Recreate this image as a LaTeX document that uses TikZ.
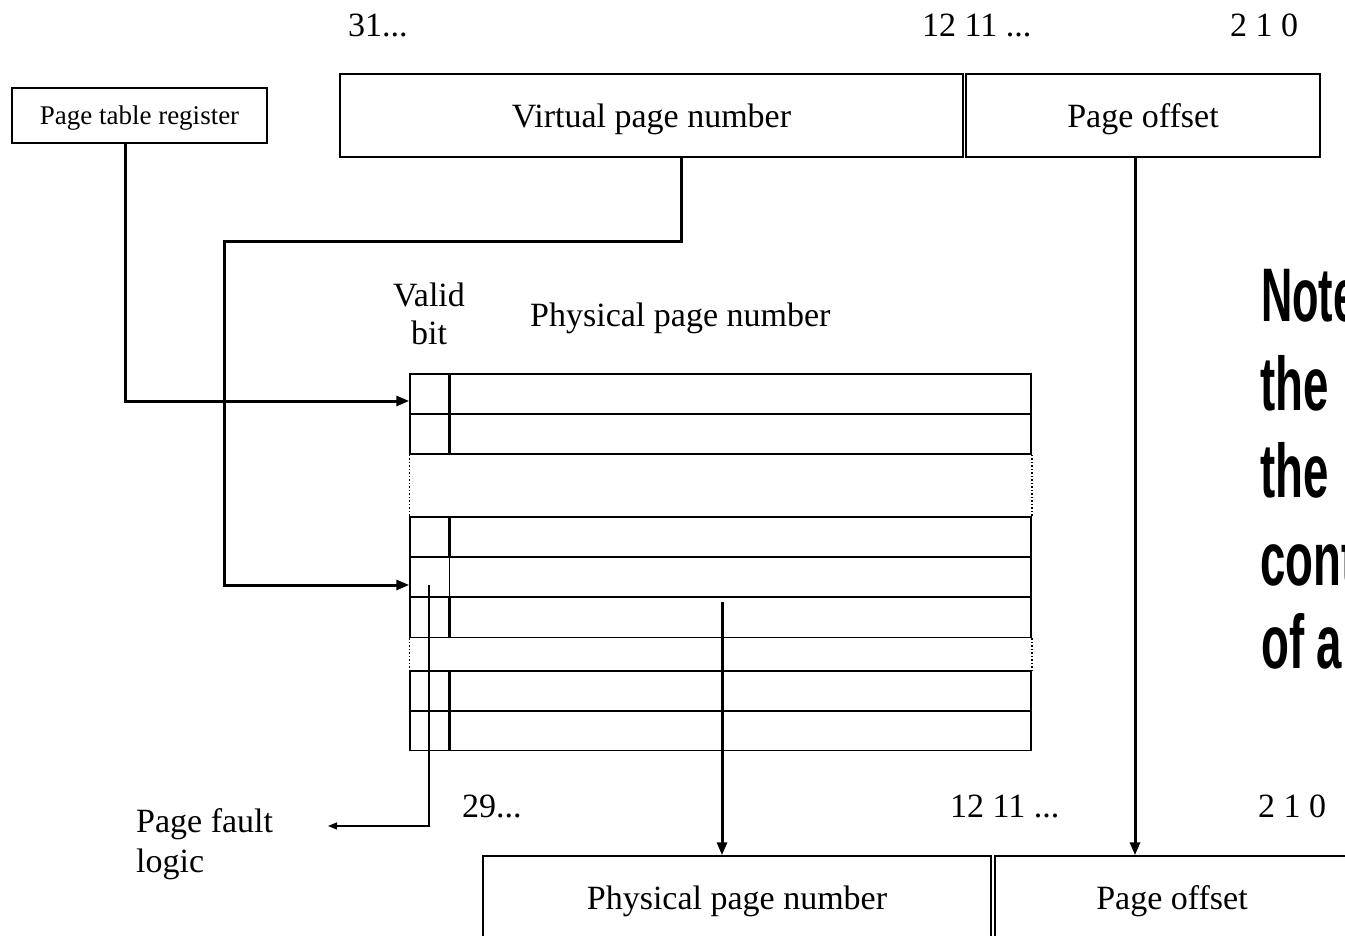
\documentclass[tikz,border=0pt]{standalone}
\usepackage{fontspec}
\usepackage{graphicx}
\setmainfont{Liberation Serif}
\newfontfamily\notefont{Liberation Sans}
\usetikzlibrary{arrows.meta}
\begin{document}
\begin{tikzpicture}[x=1pt,y=-1pt,
  box/.style={draw,line width=1.5pt,inner sep=0pt,text depth=0pt,font=\fontsize{34}{40}\selectfont},
  rowbox/.style={draw,line width=1.5pt,minimum width=621pt,minimum height=40pt,inner sep=0pt},
  conn/.style={line width=3pt,-{Triangle[length=13pt,width=10pt]}},
  thinconn/.style={line width=1.5pt,-{Triangle[length=9pt,width=7pt]}},
  vdiv/.style={line width=2.5pt},
  lbl/.style={inner sep=0pt,font=\fontsize{34}{40}\selectfont},
  note/.style={inner sep=0pt,anchor=base west,font=\notefont\bfseries\fontsize{76}{76}\selectfont}]
\useasboundingbox (0,0) rectangle (1345,936);
\clip (0,0) rectangle (1345,936);
% bit labels top
\node[lbl,anchor=west] (t31) at (348,25) {31...};
\node[lbl,anchor=west] (t12) at (922,25) {12 11 ...};
\node[lbl,anchor=west] (t0) at (1230,25) {2 1 0};
% top boxes
\node[box,minimum width=623pt,minimum height=83pt] (vpn) at (651.5,115.5) {Virtual page number};
\node[box,minimum width=354pt,minimum height=83pt] (po) at (1143,115.5) {Page offset};
\node[box,minimum width=255pt,minimum height=55pt,font=\fontsize{27}{32}\selectfont] (ptr) at (139.5,115.5) {Page table register};
% column headings
\node[lbl,align=center,font=\fontsize{34}{38}\selectfont] (valid) at (429,314) {Valid\\bit};
\node[lbl,anchor=west,text depth=0pt] (ppnh) at (530,315) {Physical page number};
% table rows
\node[rowbox] (row1) at (720.5,394) {};
\node[rowbox] (row2) at (720.5,434) {};
\node[rowbox] (row3) at (720.5,537) {};
\node[rowbox] (row4) at (720.5,577) {};
\node[rowbox] (row5) at (720.5,617.5) {};
\node[rowbox] (row6) at (720.5,691) {};
\node[rowbox] (row7) at (720.5,730.5) {};
\draw[line width=1.5pt,dotted] (row2.south west) -- (row3.north west);
\draw[line width=1.5pt,dotted] (row2.south east) -- (row3.north east);
\draw[line width=1.5pt,dotted] (row5.south west) -- (row6.north west);
\draw[line width=1.5pt,dotted] (row5.south east) -- (row6.north east);
\foreach \r in {1,2,3,5,6,7}
  \draw[vdiv] ([xshift=40pt]row\r.north west) -- ([xshift=40pt]row\r.south west);
\draw[line width=1.5pt] ([xshift=40pt]row4.north west) -- ([xshift=40pt]row4.south west);
% bottom bit labels
\node[lbl,anchor=west] (b29) at (462,806) {29...};
\node[lbl,anchor=west] (b12) at (950,806) {12 11 ...};
\node[lbl,anchor=west] (b0) at (1258,806) {2 1 0};
% bottom boxes
\node[box,minimum width=508pt,minimum height=84pt] (ppnb) at (737,898) {Physical page number};
\node[box,minimum width=354pt,minimum height=84pt] (pob) at (1172,898) {Page offset};
% page fault logic
\node[lbl,align=left,anchor=west,font=\fontsize{34}{40}\selectfont] (pfl) at (136,844) {Page fault\\logic};
\coordinate (vbit) at (429,585);
\coordinate (pflin) at (328,826);
\coordinate (bend) at (224,242);
\coordinate (ppnstart) at (722,602);
% connectors
\draw[conn] ([xshift=-14.5pt]ptr.south) |- ([yshift=-7pt]row1.west);
\draw[conn] ([xshift=29.5pt]vpn.south) |- (bend) |- ([yshift=-8pt]row4.west);
\draw[conn] ([xshift=-8pt]po.south) -- ([xshift=-8pt]po.south |- pob.north);
\draw[conn] (ppnstart) -- (ppnstart |- ppnb.north);
\draw[thinconn] (vbit) |- (pflin);
% note text (cut off at the edge, as in the reference)
\node[note] (n1) at (1261,322) {\scalebox{0.57}[1]{Note}};
\node[note] (n2) at (1260,410) {\scalebox{0.6}[1]{the}};
\node[note] (n3) at (1260,497) {\scalebox{0.6}[1]{the}};
\node[note] (n4) at (1260,585) {\scalebox{0.6}[1]{cont}};
\node[note] (n5) at (1261,668) {\scalebox{0.6}[1]{of a}};
\end{tikzpicture}
\end{document}
